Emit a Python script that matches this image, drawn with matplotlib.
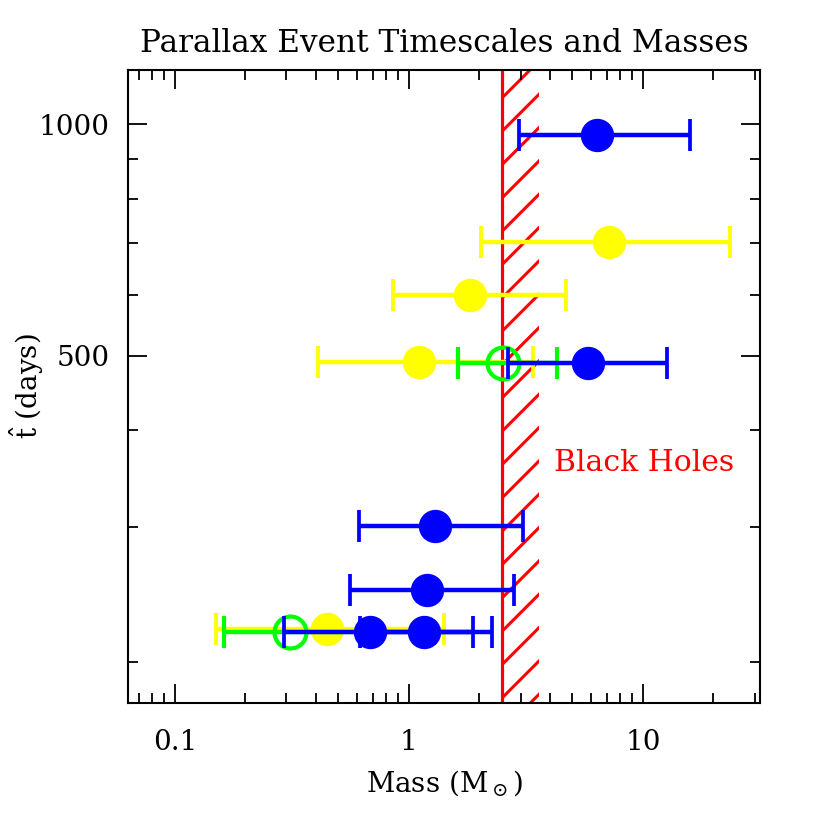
import numpy as np
import matplotlib
matplotlib.use("Agg")
import matplotlib.pyplot as plt
from matplotlib.ticker import FixedLocator, NullFormatter, FixedFormatter

##################################
# Data (mass in solar masses, timescale in days)
blue_mass = [6.37, 5.81, 1.29, 1.19, 0.682, 1.165]
blue_lo = [2.96, 2.66, 0.614, 0.561, 0.294, 0.618]
blue_hi = [15.9, 12.65, 3.06, 2.80, 1.875, 2.26]
blue_t = [968, 489, 301, 248, 219, 219]

yellow_mass = [7.17, 1.83, 1.105, 0.446]
yellow_lo = [2.03, 0.859, 0.41, 0.150]
yellow_hi = [23.6, 4.68, 3.38, 1.41]
yellow_t = [704, 599, 491, 221]

green_mass = [2.53, 0.310]
green_lo = [1.62, 0.163]
green_hi = [4.28, 0.694]
green_t = [489, 219]

bh_min, bh_max = 2.5, 3.6 #black hole mass band
x_major = [0.1, 1, 10]
x_labels = ["0.1", "1", "10"]
y_major = [500, 1000]
y_minor = [200, 300, 400, 600, 700, 800, 900]

##################################
# Style
plt.rcParams['font.family'] = ['DejaVu Serif']
plt.rcParams['mathtext.fontset'] = 'dejavuserif'
plt.rcParams['hatch.linewidth'] = 2.2
fs = 20

fig = plt.figure(figsize=(8.3, 8.3), dpi=100)
ax = fig.add_axes([128/830, 1-703/830, 632/830, 633/830])
ax.set_xscale('log')
ax.set_yscale('log')
ax.set_xlim(10**-1.2, 10**1.5)
ax.set_ylim(177, 1176)

# black hole band
ax.axvspan(bh_min, bh_max, facecolor='none', edgecolor='red', hatch='/', linewidth=0, zorder=1)
ax.axvline(bh_min, color='red', lw=2.3, zorder=1.5)
ax.text(4.17, 363, "Black Holes", color='red', fontsize=21.5, va='center', ha='left')

def errs(m, lo, hi):
    m = np.array(m)
    return [m - np.array(lo), np.array(hi) - m]

eb = dict(fmt='o', markersize=23, elinewidth=3.2, capsize=11.5, capthick=2.7)
ax.errorbar(yellow_mass, yellow_t, xerr=errs(yellow_mass, yellow_lo, yellow_hi),
            color='#ffff00', zorder=3, **eb)
ax.errorbar(green_mass, green_t, xerr=errs(green_mass, green_lo, green_hi),
            color='#00ff00', mfc='none', mew=3, zorder=4, **eb)
ax.errorbar(blue_mass, blue_t, xerr=errs(blue_mass, blue_lo, blue_hi),
            color='#0000ff', zorder=5, **eb)

# ticks
ax.yaxis.set_major_locator(FixedLocator(y_major))
ax.yaxis.set_major_formatter(FixedFormatter([str(v) for v in y_major]))
ax.yaxis.set_minor_locator(FixedLocator(y_minor))
ax.yaxis.set_minor_formatter(NullFormatter())
ax.xaxis.set_major_locator(FixedLocator(x_major))
ax.xaxis.set_major_formatter(FixedFormatter(x_labels))
ax.tick_params(which='both', direction='in', top=True, right=True, width=1.3, labelsize=fs)
ax.tick_params(which='major', length=14)
ax.tick_params(which='minor', length=7)
ax.tick_params(axis='x', which='major', pad=19)
ax.tick_params(axis='y', which='major', pad=13)
for s in ax.spines.values():
    s.set_linewidth(1.5)

ax.set_xlabel(r'Mass (M$_\odot$)', fontsize=fs, labelpad=8)
ax.set_ylabel(r'$\hat{\rm t}$ (days)', fontsize=fs)
ax.yaxis.set_label_coords(-0.13, 0.5)
ax.set_title("Parallax Event Timescales and Masses", fontsize=22.5, pad=13)

fig.savefig("out.png", dpi=100)
